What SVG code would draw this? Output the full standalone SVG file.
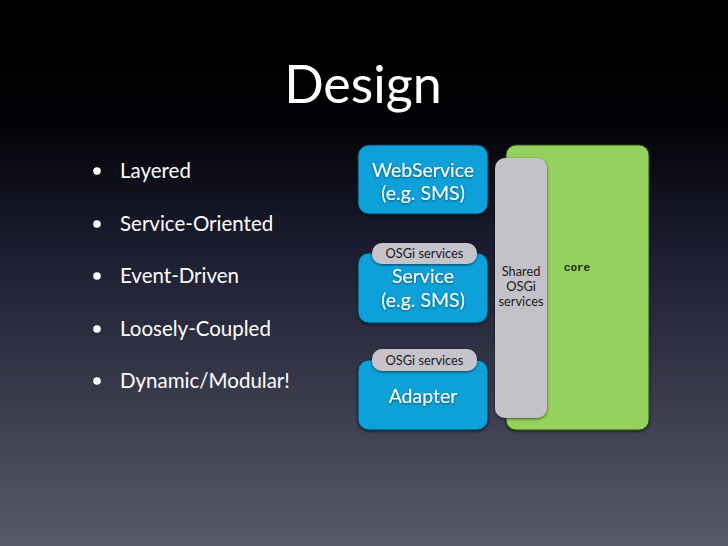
<svg xmlns="http://www.w3.org/2000/svg" width="728" height="546" viewBox="0 0 728 546">
<defs>
<linearGradient id="bg" x1="0" y1="0" x2="0" y2="1">
<stop offset="0" stop-color="#000000"/>
<stop offset="0.22" stop-color="#020206"/>
<stop offset="0.45" stop-color="#1b1c2f"/>
<stop offset="1" stop-color="#575a6b"/>
</linearGradient>
<filter id="sh" x="-10%" y="-10%" width="120%" height="120%">
<feDropShadow dx="0" dy="1" stdDeviation="1.5" flood-color="#000" flood-opacity="0.6"/>
</filter>
<filter id="tsh" x="-10%" y="-20%" width="120%" height="140%">
<feDropShadow dx="0" dy="1" stdDeviation="1" flood-color="#000" flood-opacity="0.5"/>
</filter>
</defs>
<style>
.t{font-family:"Lato","Liberation Sans",sans-serif;fill:#fff}
.b{font-size:20.5px}
.box{fill:#11a0d9;stroke:#0b3550;stroke-width:1}
.pill{fill:#c6c4ca}
.pt{font-family:"Lato","Liberation Sans",sans-serif;fill:#1a1a1a;font-size:12.8px;text-anchor:middle}
.bt{font-family:"Lato","Liberation Sans",sans-serif;fill:#fff;font-size:19.5px;text-anchor:middle}
</style>
<rect width="728" height="546" fill="url(#bg)"/>
<text class="t" x="363" y="103" font-size="52" text-anchor="middle">Design</text>
<g id="bullets">
<circle cx="97" cy="171" r="3.8" fill="#fff"/>
<text class="t b" x="120" y="178">Layered</text>
<circle cx="97" cy="224" r="3.8" fill="#fff"/>
<text class="t b" x="120" y="231">Service-Oriented</text>
<circle cx="97" cy="276" r="3.8" fill="#fff"/>
<text class="t b" x="120" y="283">Event-Driven</text>
<circle cx="97" cy="329" r="3.8" fill="#fff"/>
<text class="t b" x="120" y="336">Loosely-Coupled</text>
<circle cx="97" cy="381" r="3.8" fill="#fff"/>
<text class="t b" x="120" y="388">Dynamic/Modular!</text>
</g>
<g id="core">
<rect x="506" y="145" width="143" height="285" rx="10" fill="#95d15b" stroke="#2d4a1a" stroke-width="1" filter="url(#sh)"/>
<text x="577" y="271" font-family="'Liberation Mono',monospace" font-weight="bold" font-size="11" fill="#1a2a10" text-anchor="middle">core</text>
</g>
<g id="shared">
<rect x="495" y="158" width="52" height="260" rx="10" fill="#c4c2c8" filter="url(#sh)"/>
<text class="pt" x="521" y="276" font-size="11">Shared</text>
<text class="pt" x="521" y="291" font-size="11">OSGi</text>
<text class="pt" x="521" y="306" font-size="11">services</text>
</g>
<g id="webservice">
<rect class="box" x="358" y="145" width="130" height="69" rx="11" filter="url(#sh)"/>
<text class="bt" x="423" y="177" filter="url(#tsh)">WebService</text>
<text class="bt" x="423" y="200" filter="url(#tsh)">(e.g. SMS)</text>
</g>
<g id="service">
<rect class="box" x="358" y="253" width="130" height="70" rx="11" filter="url(#sh)"/>
<text class="bt" x="423" y="283" filter="url(#tsh)">Service</text>
<text class="bt" x="423" y="307" filter="url(#tsh)">(e.g. SMS)</text>
</g>
<g id="pill1">
<rect class="pill" x="372" y="243" width="105" height="21" rx="10" filter="url(#sh)"/>
<text class="pt" x="424.5" y="258">OSGi services</text>
</g>
<g id="adapter">
<rect class="box" x="358" y="360" width="130" height="70" rx="11" filter="url(#sh)"/>
<text class="bt" x="423" y="403" filter="url(#tsh)">Adapter</text>
</g>
<g id="pill2">
<rect class="pill" x="372" y="349" width="105" height="22" rx="10" filter="url(#sh)"/>
<text class="pt" x="424.5" y="364.5">OSGi services</text>
</g>
<g id="connectors"/>
</svg>
